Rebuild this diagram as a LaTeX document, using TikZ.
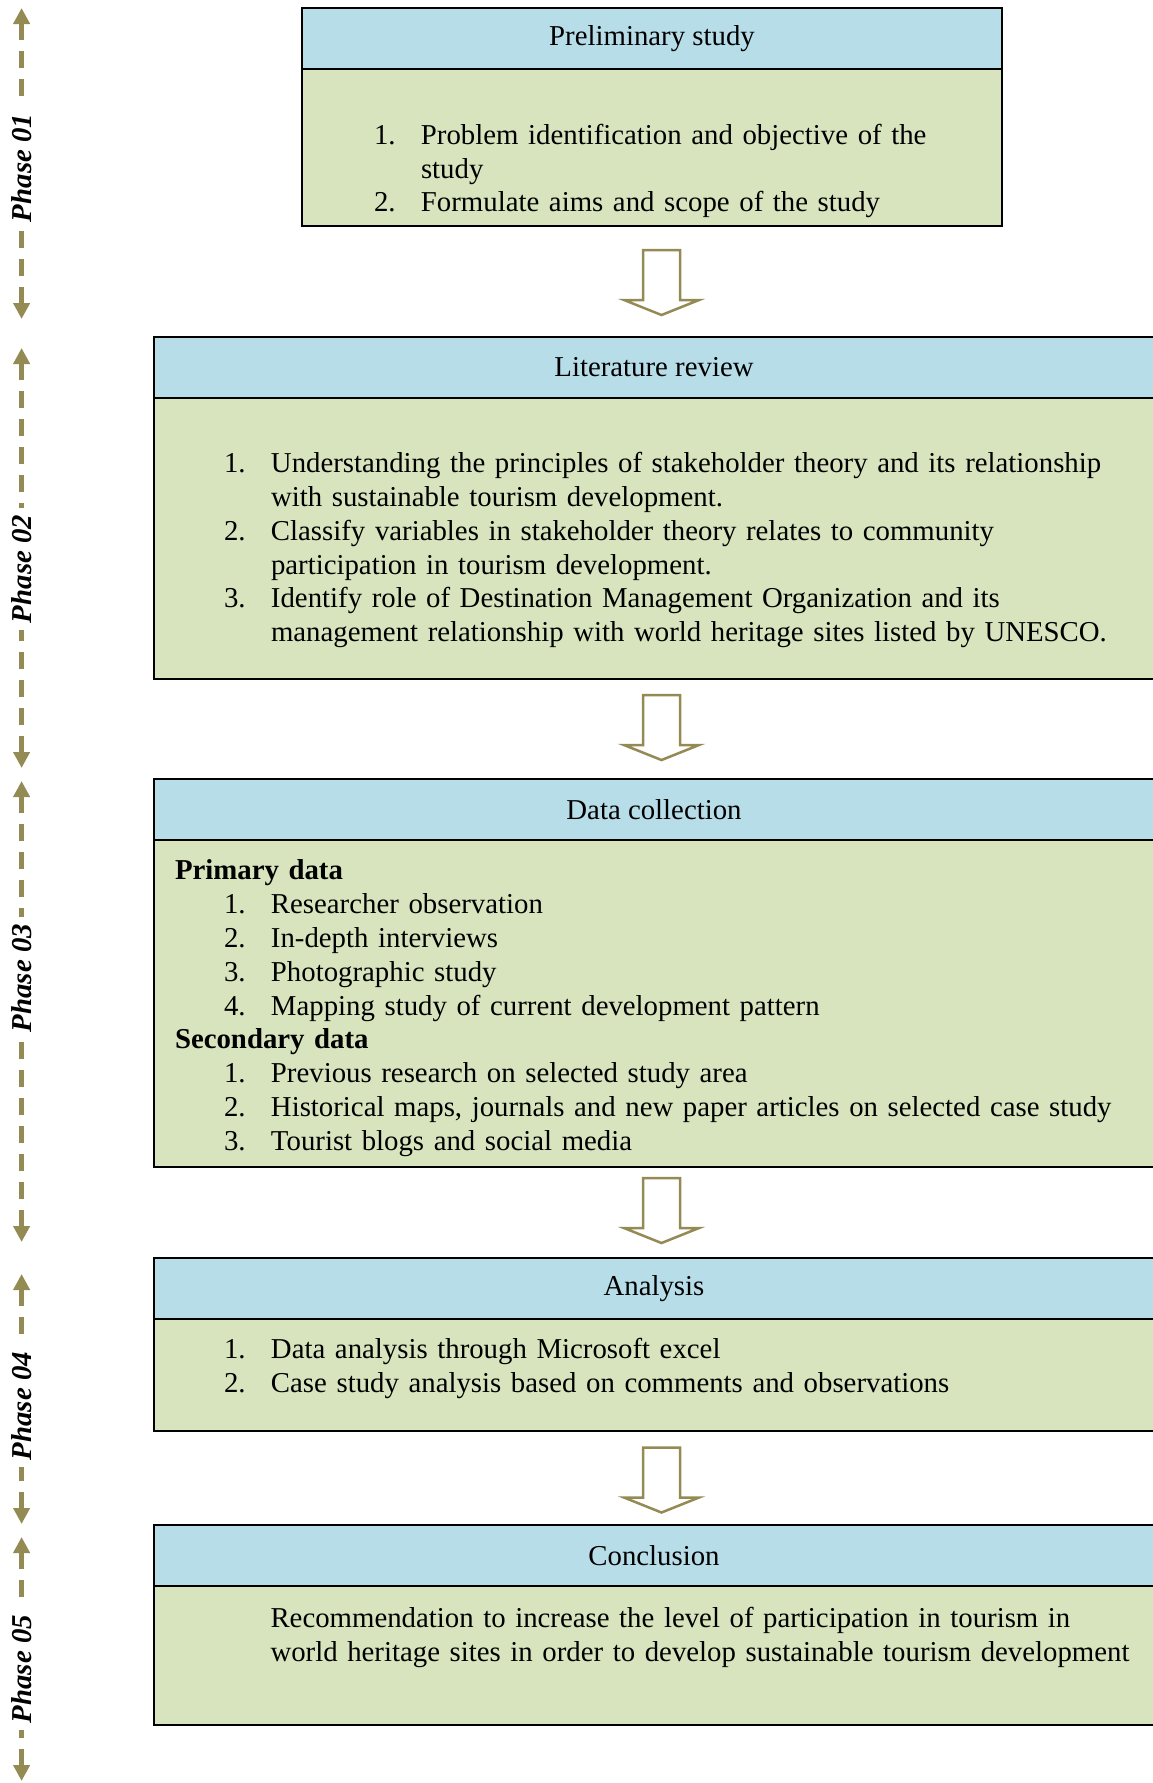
\documentclass[tikz,border=0pt]{standalone}
\usepackage{fontspec}
\setmainfont{Liberation Serif}
\usetikzlibrary{arrows.meta}

\definecolor{headblue}{RGB}{183,221,232}
\definecolor{bodygreen}{RGB}{215,228,189}
\definecolor{phaseolive}{RGB}{148,138,84}

\tikzset{every picture/.style={line width=2pt}}

\newcommand{\bodyfont}{\fontsize{28.8}{33.8}\selectfont}
\newcommand{\listfont}{\bodyfont\hyphenpenalty=10000\relax}
\newlength{\listind}
\newcommand{\itm}[2]{\noindent\hangindent=\dimexpr\listind+47pt\relax\hangafter=1\hspace*{\listind}\makebox[47pt][l]{#1}#2\par}
\newcommand{\hollowdown}[2]{\draw[hollowarrow] (#1-18.5,#2) -- (#1+18.5,#2) -- (#1+18.5,#2+50) -- (#1+37.5,#2+50) -- (#1,#2+65) -- (#1-37.5,#2+50) -- (#1-18.5,#2+50) -- cycle;}

\begin{document}
\begin{tikzpicture}[x=1pt,y=1pt,yscale=-1,
  headbox/.style={draw=black, fill=headblue, minimum width=#1, minimum height=61.4, inner sep=0, outer sep=0, font=\bodyfont},
  bodybox/.style={draw=black, fill=bodygreen, minimum width=#1, inner sep=0, outer sep=0},
  listtext/.style={anchor=north west, text width=980, inner sep=0, font=\listfont},
  phase/.style={rotate=90, fill=white, inner sep=6, font=\bodyfont\bfseries\itshape},
  phasearrow/.style={draw=phaseolive, line width=4.5, dash pattern=on 17pt off 11pt, {Triangle[width=16pt,length=16pt]}-},
  hollowarrow/.style={draw=phaseolive, line width=2.5, fill=white, line join=miter}]
\useasboundingbox (0,0) rectangle (1153,1783);

%Shape: Rectangle [preliminary study]
\node[headbox=700] (pre) at (652,38.7) {Preliminary study};
\node[bodybox=700, minimum height=156.6, anchor=north] (preb) at (pre.south) {};
% Text Node
\node[listtext] (pret) at (373,123) {\itm{1.}{Problem identification and objective of the\newline study}\itm{2.}{Formulate aims and scope of the study}};

%Shape: Rectangle [literature review]
\node[headbox=1001] (lit) at (654,367.3) {Literature review};
\node[bodybox=1001, minimum height=281, anchor=north] (litb) at (lit.south) {};
% Text Node
\node[listtext] (litt) at (223,451.5) {\itm{1.}{Understanding the principles of stakeholder theory and its relationship\newline with sustainable tourism development.}\itm{2.}{Classify variables in stakeholder theory relates to community\newline participation in tourism development.}\itm{3.}{Identify role of Destination Management Organization and its\newline management relationship with world heritage sites listed by UNESCO.}};

%Shape: Rectangle [data collection]
\node[headbox=1001] (dat) at (654,809.5) {Data collection};
\node[bodybox=1001, minimum height=327, anchor=north] (datb) at (dat.south) {};
% Text Node
\node[listtext] (datt) at (174,859) {\noindent\textbf{Primary data}\par\setlength{\listind}{49pt}%
\itm{1.}{Researcher observation}\itm{2.}{In-depth interviews}\itm{3.}{Photographic study}\itm{4.}{Mapping study of current development pattern}%
\noindent\textbf{Secondary data}\par
\itm{1.}{Previous research on selected study area}\itm{2.}{Historical maps, journals and new paper articles on selected case study}\itm{3.}{Tourist blogs and social media}};

%Shape: Rectangle [analysis]
\node[headbox=1001] (ana) at (654,1288.5) {Analysis};
\node[bodybox=1001, minimum height=111.5, anchor=north] (anab) at (ana.south) {};
% Text Node
\node[listtext] (anat) at (223,1337) {\itm{1.}{Data analysis through Microsoft excel}\itm{2.}{Case study analysis based on comments and observations}};

%Shape: Rectangle [conclusion]
\node[headbox=1001] (con) at (654,1555.5) {Conclusion};
\node[bodybox=1001, minimum height=139, anchor=north] (conb) at (con.south) {};
% Text Node
\node[listtext, text width=867.5] (cont) at (269.5,1606) {\rightskip=0pt\parfillskip=0pt plus 1fil\relax\noindent Recommendation to increase the level of participation in tourism in\linebreak world heritage sites in order to develop sustainable tourism development\par};

%Shape: Down Arrow
\hollowdown{661.5}{250}
\hollowdown{661.5}{695}
\hollowdown{661.5}{1178}
\hollowdown{661.5}{1447.5}

% phases
\coordinate (p1t) at (21.6,8);    \coordinate (p1b) at (21.6,319);
\coordinate (p2t) at (21.6,348);  \coordinate (p2b) at (21.6,768);
\coordinate (p3t) at (21.6,781);  \coordinate (p3b) at (21.6,1242);
\coordinate (p4t) at (21.6,1274); \coordinate (p4b) at (21.6,1524);
\coordinate (p5t) at (21.6,1537); \coordinate (p5b) at (21.6,1781);
\node[phase] (p1) at (21.6,168) {Phase 01};
\node[phase] (p2) at (21.6,569) {Phase 02};
\node[phase] (p3) at (21.6,978) {Phase 03};
\node[phase] (p4) at (21.6,1406) {Phase 04};
\node[phase] (p5) at (21.6,1669) {Phase 05};
\foreach \p in {p1,p2,p3,p4,p5}{
  \draw[phasearrow] (\p t) -- (\p);
  \draw[phasearrow] (\p b) -- (\p);
}

\end{tikzpicture}
\end{document}
